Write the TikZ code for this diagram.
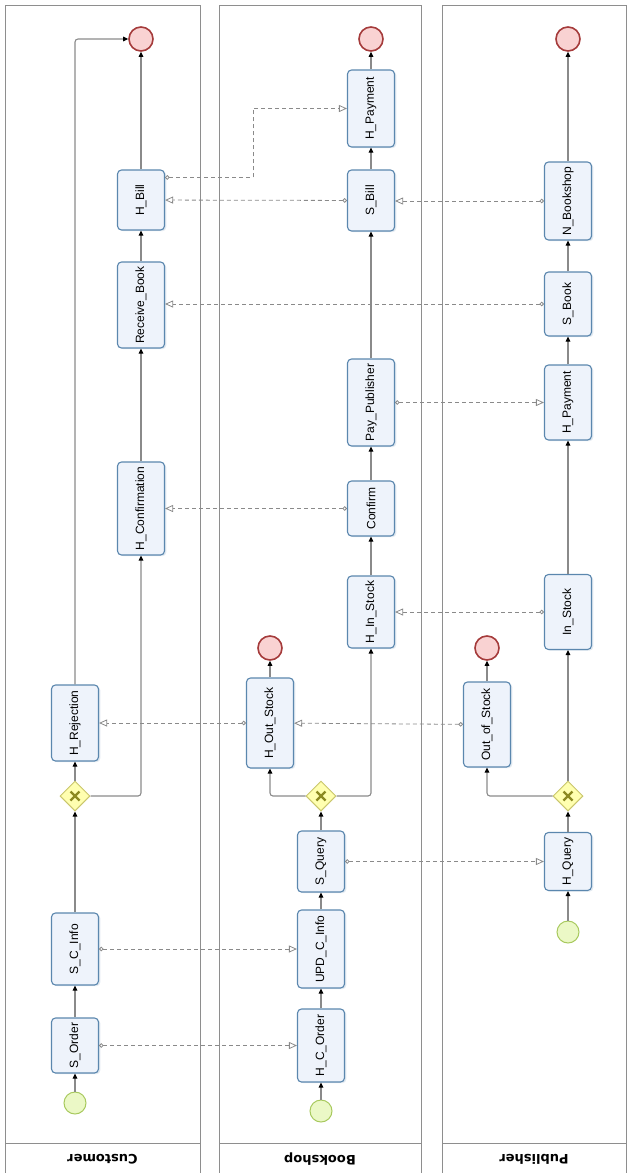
\documentclass[tikz,border=0pt]{standalone}
\usepackage{fontspec}
\setmainfont{Liberation Sans}
\newfontfamily\lanefont{DejaVu Sans}
\usepackage{graphicx}
\usetikzlibrary{arrows.meta,shapes.geometric,shadows,positioning}

\definecolor{taskfill}{HTML}{EEF3FB}
\definecolor{taskline}{HTML}{5B87AE}
\definecolor{flowgray}{HTML}{8A8A8A}
\definecolor{lanegray}{HTML}{8E8E8E}
\definecolor{gatefill}{HTML}{FFFFB0}
\definecolor{gateline}{HTML}{C9C66C}
\definecolor{gatex}{HTML}{8C8A22}
\definecolor{startfill}{HTML}{EBF8C6}
\definecolor{startline}{HTML}{A8C95E}
\definecolor{endfill}{HTML}{F9D2D2}
\definecolor{endline}{HTML}{A53B3B}

\newcommand{\tsk}[1]{\rotatebox{90}{#1}}

\begin{document}
\begin{tikzpicture}[x=1pt,y=-1pt,
	task/.style={draw=taskline,fill=taskfill,line width=1.1pt,rounded corners=4pt,
		minimum width=47pt,inner sep=0pt,font=\fontsize{12}{13}\selectfont,
		drop shadow={shadow xshift=1.8pt,shadow yshift=-1.2pt,fill=taskline!60,opacity=.3}},
	startev/.style={circle,draw=startline,fill=startfill,line width=1pt,minimum size=22pt,inner sep=0pt},
	endev/.style={circle,draw=endline,fill=endfill,line width=1.6pt,minimum size=24pt,inner sep=0pt},
	gate/.style={diamond,draw=gateline,fill=gatefill,line width=1pt,minimum size=30pt,inner sep=0pt,
		path picture={\draw[gatex,line width=2.2pt]
			([shift={(-4.5pt,-4.5pt)}]path picture bounding box.center) -- ([shift={(4.5pt,4.5pt)}]path picture bounding box.center)
			([shift={(-4.5pt,4.5pt)}]path picture bounding box.center) -- ([shift={(4.5pt,-4.5pt)}]path picture bounding box.center);}},
	seq/.style={draw=flowgray,line width=1.1pt,rounded corners=3pt,
		-{Triangle[length=5pt,width=4.5pt,color=black]}},
	msg/.style={draw=flowgray,line width=0.8pt,dash pattern=on 4pt off 3pt,
		{Circle[open,length=4.5pt,fill=white]}-{Triangle[open,length=8pt,width=7pt,fill=white]}},
	lane/.style={draw=lanegray,line width=1pt},
	lanelbl/.style={font=\lanefont\bfseries\fontsize{13}{14}\selectfont,rotate=180}]
\useasboundingbox (0,0) rectangle (629,1173);

% lanes
\draw[lane] (5,5) rectangle (200,1173.5) (5,1143) -- (200,1143);
\draw[lane] (219,5) rectangle (421,1173.5) (219,1143) -- (421,1143);
\draw[lane] (442,5) rectangle (626,1173.5) (442,1143) -- (626,1143);
\node[lanelbl] (custlbl) at (102.5,1159) {Customer};
\node[lanelbl] (booklbl) at (320,1159) {Bookshop};
\node[lanelbl] (publbl) at (534,1159) {Publisher};

% customer
\node[startev] (cstart) at (75,1103) {};
\node[task,minimum height=55pt] (sorder) at (75,1045.5) {\tsk{S\_Order}};
\node[task,minimum height=72pt] (scinfo) at (75,949) {\tsk{S\_C\_Info}};
\node[gate] (cgate) at (75,796) {};
\node[task,minimum height=76pt] (hrej) at (75,723) {\tsk{H\_Rejection}};
\node[task,minimum height=93pt] (hconf) at (141,508.5) {\tsk{H\_Confirmation}};
\node[task,minimum height=86pt] (recbook) at (141,305) {\tsk{Receive\_Book}};
\node[task,minimum height=60pt] (hbill) at (141,200) {\tsk{H\_Bill}};
\node[endev] (cend) at (141,39) {};

% bookshop
\node[startev] (bstart) at (321,1111) {};
\node[task,minimum height=73pt] (hcorder) at (321,1045.5) {\tsk{H\_C\_Order}};
\node[task,minimum height=78pt] (updinfo) at (321,949) {\tsk{UPD\_C\_Info}};
\node[task,minimum height=61pt] (squery) at (321,861.5) {\tsk{S\_Query}};
\node[gate] (bgate) at (321,796) {};
\node[task,minimum height=90pt] (houtst) at (270,723) {\tsk{H\_Out\_Stock}};
\node[endev] (bendout) at (270,648) {};
\node[task,minimum height=72pt] (hinst) at (371,612) {\tsk{H\_In\_Stock}};
\node[task,minimum height=55pt] (confirm) at (371,508.5) {\tsk{Confirm}};
\node[task,minimum height=87pt] (paypub) at (371,402.5) {\tsk{Pay\_Publisher}};
\node[task,minimum height=61pt] (sbill) at (371,200.5) {\tsk{S\_Bill}};
\node[task,minimum height=77pt] (bhpay) at (371,108.5) {\tsk{H\_Payment}};
\node[endev] (bend) at (371,39) {};

% publisher
\node[startev] (pstart) at (568,932) {};
\node[task,minimum height=58pt] (hquery) at (568,861.5) {\tsk{H\_Query}};
\node[gate] (pgate) at (568,796) {};
\node[task,minimum height=85pt] (outst) at (487,724.5) {\tsk{Out\_of\_Stock}};
\node[endev] (pendout) at (487,648) {};
\node[task,minimum height=75pt] (inst) at (568,612) {\tsk{In\_Stock}};
\node[task,minimum height=75pt] (phpay) at (568,402.5) {\tsk{H\_Payment}};
\node[task,minimum height=64pt] (sbook) at (568,304) {\tsk{S\_Book}};
\node[task,minimum height=78pt] (nbook) at (568,201) {\tsk{N\_Bookshop}};
\node[endev] (pend) at (568,39) {};

% sequence flows
\draw[seq] (cstart) -- (sorder);
\draw[seq] (sorder) -- (scinfo);
\draw[seq] (scinfo) -- (cgate);
\draw[seq] (cgate) -- (hrej);
\draw[seq] (hrej.north) |- (cend.west);
\draw[seq] (cgate.east) -| (hconf.south);
\draw[seq] (hconf) -- (recbook);
\draw[seq] (recbook) -- (hbill);
\draw[seq] (hbill) -- (cend);

\draw[seq] (bstart) -- (hcorder);
\draw[seq] (hcorder) -- (updinfo);
\draw[seq] (updinfo) -- (squery);
\draw[seq] (squery) -- (bgate);
\draw[seq] (bgate.west) -| (houtst.south);
\draw[seq] (houtst) -- (bendout);
\draw[seq] (bgate.east) -| (hinst.south);
\draw[seq] (hinst) -- (confirm);
\draw[seq] (confirm) -- (paypub);
\draw[seq] (paypub) -- (sbill);
\draw[seq] (sbill) -- (bhpay);
\draw[seq] (bhpay) -- (bend);

\draw[seq] (pstart) -- (hquery);
\draw[seq] (hquery) -- (pgate);
\draw[seq] (pgate.west) -| (outst.south);
\draw[seq] (outst) -- (pendout);
\draw[seq] (pgate) -- (inst);
\draw[seq] (inst) -- (phpay);
\draw[seq] (phpay) -- (sbook);
\draw[seq] (sbook) -- (nbook);
\draw[seq] (nbook) -- (pend);

% message flows
\draw[msg] (sorder) -- (hcorder);
\draw[msg] (scinfo) -- (updinfo);
\draw[msg] (squery) -- (hquery);
\draw[msg] (outst) -- (houtst);
\draw[msg] (houtst) -- (hrej);
\draw[msg] (inst) -- (hinst);
\draw[msg] (confirm) -- (hconf.east |- confirm);
\draw[msg] (paypub) -- (phpay);
\draw[msg] (sbook) -- (recbook.east |- sbook);
\draw[msg] (nbook) -- (sbill.east |- nbook);
\draw[msg] (sbill) -- (hbill);
\coordinate (billbend) at (253,108.5);
\draw[msg] ([yshift=-8pt]hbill.north east) -| (billbend) -- (bhpay.west);
\end{tikzpicture}
\end{document}
